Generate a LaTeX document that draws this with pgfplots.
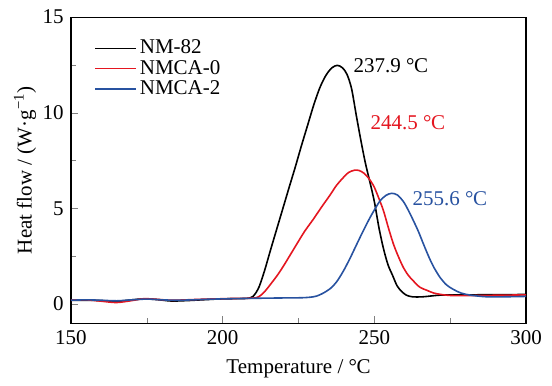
\documentclass[border=0pt]{standalone}
\usepackage{fontspec}
\setmainfont{Liberation Serif}
\usepackage{pgfplots}
\pgfplotsset{compat=1.18}
\newcommand\degC{°\kern-0.02emC}
\definecolor{myred}{RGB}{228,22,32}
\definecolor{myblue}{RGB}{40,82,160}
\begin{document}
\fontsize{10.5}{12.6}\selectfont
\begin{tikzpicture}
\begin{axis}[
  scale only axis, width=227.5pt, height=153pt,
  xmin=150, xmax=300, ymin=-1, ymax=15,
  xtick={150,200,250,300}, ytick={0,5,10,15},
  minor xtick={175,225,275}, minor ytick={2.5,7.5,12.5},
  xtick pos=bottom, ytick pos=left,
  tick align=inside,
  major tick length=3.5pt, minor tick length=2.5pt,
  /pgf/number format/assume math mode=true,
  ticklabel style={font=\fontsize{10.5}{12.6}\selectfont},
  label style={font=\fontsize{10.5}{12.6}\selectfont},
  xlabel={Temperature / \degC},
  ylabel={Heat flow / (W·g\textsuperscript{−1})},
  ylabel shift=-4pt,
  axis line style={line width=0.6pt},
  clip=false,
  legend style={draw=none, fill=none, at={(rel axis cs:0.037,0.945)}, anchor=north west,
    font=\fontsize{10.5}{12.6}\selectfont, row sep=0pt,
    nodes={inner xsep=1.5pt, inner ysep=0.8pt, text height=7pt, text depth=1.5pt}},
  legend cell align=left,
  legend image code/.code={\draw[#1] plot coordinates {(0pt,0pt) (10pt,0pt) (20.5pt,0pt)};},
]
\path (rel axis cs:-0.156,-0.203) rectangle (rel axis cs:1.057,1.056);
\addplot[color=black, line width=0.8pt, smooth, tension=0.5] coordinates {
(150,0.2)(155,0.2)(160,0.18)(165,0.14)(170,0.22)(174,0.27)(178,0.24)(183,0.16)(188,0.18)(193,0.22)(198,0.26)(203,0.28)(207,0.29)(209,0.32)
(210,0.4)(211,0.6)(212,0.9)(213,1.35)(214,1.85)(215,2.4)(216,2.95)(217.5,3.75)(219,4.55)(220.5,5.35)(222,6.15)(224,7.2)(226,8.3)(228,9.35)(230,10.4)(232,11.3)(234,11.95)(236,12.35)(237.8,12.48)(239.5,12.35)(241,12.0)(242.5,11.25)(244,9.9)(245.5,8.6)(247,7.4)(248.5,6.4)(250,5.35)(251.5,4.0)(253,2.9)(254.5,2.05)(256,1.5)(257.5,0.95)(259,0.66)(260.5,0.47)(262.5,0.38)(266,0.38)(272,0.47)(280,0.48)(290,0.49)(300,0.5)
};
\addlegendentry{NM-82}
\addplot[color=myred, line width=0.8pt, smooth, tension=0.5] coordinates {
(150,0.2)(155,0.22)(160,0.15)(165,0.08)(170,0.18)(174,0.28)(178,0.25)(183,0.2)(188,0.22)(193,0.25)(198,0.27)(203,0.29)(208,0.3)(211,0.33)
(212.5,0.45)(214,0.68)(216,1.08)(218,1.5)(220,1.98)(222,2.5)(224.4,3.13)(227,3.8)(229.9,4.44)(232.5,5.05)(235.4,5.7)(237.5,6.2)(239.8,6.62)(241.5,6.88)(243.5,7.0)(245,6.98)(246.5,6.85)(248,6.6)(249.7,6.2)(251.3,5.6)(253,4.88)(254.6,4.0)(256.3,3.13)(258,2.45)(259.6,1.9)(261.2,1.5)(262.9,1.2)(265,0.88)(267.3,0.72)(269.5,0.58)(272,0.5)(275,0.45)(280,0.44)(290,0.46)(300,0.48)
};
\addlegendentry{NMCA-0}
\addplot[color=myblue, line width=0.8pt, smooth, tension=0.5] coordinates {
(150,0.2)(155,0.22)(160,0.2)(165,0.17)(170,0.22)(175,0.26)(180,0.22)(185,0.2)(190,0.22)(195,0.25)(200,0.27)(210,0.3)(220,0.32)(226,0.33)(229,0.36)
(231,0.42)(233,0.56)(235.4,0.8)(237.5,1.15)(239.8,1.73)(242,2.4)(244.2,3.13)(246.4,3.85)(248.6,4.53)(250.3,5.0)(251.9,5.4)(253.8,5.68)(255.7,5.79)(257.6,5.7)(259.6,5.35)(261.2,4.9)(262.9,4.35)(264.5,3.8)(266.2,3.13)(268,2.45)(269.5,1.95)(271.7,1.38)(273.8,1.0)(276,0.77)(278.5,0.58)(281.5,0.47)(287,0.38)(293,0.38)(300,0.4)
};
\addlegendentry{NMCA-2}
\node[anchor=west, inner sep=0pt, text=black] at (axis cs:243,12.45) {237.9 \degC};
\node[anchor=west, inner sep=0pt, text=myred] at (axis cs:248.6,9.5) {244.5 \degC};
\node[anchor=west, inner sep=0pt, text=myblue] at (axis cs:262.5,5.5) {255.6 \degC};
\end{axis}
\end{tikzpicture}
\end{document}
